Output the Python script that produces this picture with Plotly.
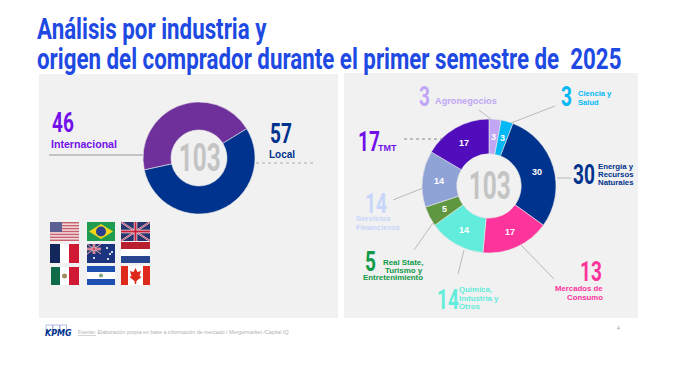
import math
import plotly.graph_objects as go

W, H = 688, 366
PAGE = 8  # the page body's default margin
FW, FH = W - 2 * PAGE, H - 2 * PAGE
DISPLAY = "Roboto"
SANS = "Liberation Sans"

origin_labels = ["Internacional", "Local"]
origin_values = [46, 57]
origin_colors = ["#70309b", "#00338d"]

industry_labels = ["Agronegocios", "Ciencia y Salud", "Energía y Recursos Naturales",
                   "Mercados de Consumo", "Química, Industria y Otros",
                   "Real State, Turismo y Entretenimiento", "Servicios Financieros", "TMT"]
industry_values = [3, 3, 30, 17, 14, 5, 14, 17]
industry_colors = ["#c0a6f5", "#00b8f5", "#00338d", "#fd349c", "#62ecdc",
                   "#5f9640", "#8fa3d6", "#510dbc"]
total = sum(origin_values)


def px(x):
    return (x - PAGE) / FW


def py(y):
    return 1 - (y - PAGE) / FH


shapes = []
ann = []


def rect(x0, y0, x1, y1, color, layer="below"):
    shapes.append(dict(type="rect", xref="paper", yref="paper", x0=px(x0), x1=px(x1),
                       y0=py(y0), y1=py(y1), fillcolor=color, line_width=0, layer=layer))


def line(x0, y0, x1, y1, color="#a0a0a0", width=0.7, dash="solid", layer="above"):
    shapes.append(dict(type="line", xref="paper", yref="paper", x0=px(x0), x1=px(x1),
                       y0=py(y0), y1=py(y1), line=dict(color=color, width=width, dash=dash), layer=layer))


def poly(points, color, layer="above"):
    w = "M " + " L ".join(f"{px(a):.5f},{py(b):.5f}" for a, b in points) + " Z"
    shapes.append(dict(type="path", xref="paper", yref="paper", path=w, fillcolor=color,
                       line_width=0, layer=layer))


def dot(x, y, r, color):
    shapes.append(dict(type="circle", xref="paper", yref="paper", x0=px(x - r), x1=px(x + r),
                       y0=py(y - r), y1=py(y + r), fillcolor=color, line_width=0, layer="above"))


def text(x, y, s, size, color, anchor="left", family=SANS, bold=True, gap=8.3):
    parts = s.split("\n")
    top = y - gap * (len(parts) - 1) / 2
    for i, p in enumerate(parts):
        t = f"<b>{p}</b>" if bold else p
        ann.append(dict(xref="paper", yref="paper", x=px(x), y=py(top + i * gap), text=t, showarrow=False,
                        xanchor=anchor, yanchor="middle", align=anchor, borderpad=0, borderwidth=0,
                        font=dict(family=family, size=size, color=color)))


# panels
rect(39, 74, 338, 318, "#f1f1f1")
rect(344, 73, 638, 318, "#f1f1f1")

# title
text(37, 28, "Análisis por industria y", 30, "#1e49e2", family=DISPLAY)
text(37, 59, "origen del comprador durante el primer semestre de  2025", 30, "#1e49e2", family=DISPLAY)

# donut centre labels
text(199, 158, str(total), 38, "#c4c4c4", "center", DISPLAY)
text(489, 186, str(total), 38, "#c4c4c4", "center", DISPLAY)

# left labels
text(52, 123, "46", 28, "#7210ea", family=DISPLAY)
text(51, 144, "Internacional", 10.6, "#7210ea")
text(270, 133, "57", 28, "#00338d", family=DISPLAY)
text(269, 154, "Local", 10, "#00338d")
line(49, 155, 143, 155, "#808080", 0.8)
line(256, 163, 315, 163, "#a0a0a0", 0.8, dash="dot")

# right labels
text(419, 97, "3", 28, "#c0a6f5", family=DISPLAY)
text(435, 101, "Agronegocios", 9.2, "#c0a6f5")
line(479, 110, 492, 120)
text(561, 97, "3", 28, "#00b8f5", family=DISPLAY)
text(578, 98, "Ciencia y\nSalud", 7.6, "#00b8f5")
line(555, 106, 511, 123)
text(358, 141, "17", 28, "#7210ea", family=DISPLAY)
text(378, 148, "TMT", 9, "#7210ea")
line(404, 139, 443, 139, "#707070", 0.8, dash="dot")
text(573, 175, "30", 28, "#00338d", family=DISPLAY)
text(598, 174.5, "Energía y\nRecursos\nNaturales", 7.8, "#00338d")
line(557, 178, 571, 178)
text(365, 203, "14", 28, "#c6d6fa", family=DISPLAY)
text(356, 223, "Servicios\nFinancieros", 7.8, "#c6d6fa")
line(393, 200, 423, 188)
text(365, 261, "5", 28, "#0f9a48", family=DISPLAY)
text(423, 270, "Real State,\nTurismo y\nEntretenimiento", 7.9, "#0f9a48", "right", gap=7.7)
line(414, 250, 433, 223)
text(437, 299, "14", 28, "#62ecdc", family=DISPLAY)
text(459, 298, "Química,\nIndustria y\nOtros", 7.8, "#62ecdc")
line(458, 274, 464, 250)
text(580, 271, "13", 28, "#fd349c", family=DISPLAY)
text(603, 293, "Mercados de\nConsumo", 7.8, "#fd349c", "right")
line(554, 279, 521, 245)

# values inside the industry ring, placed at each slice's mid-angle
RING_X, RING_Y, RING_R = 489, 186.5, 50
running = 0
for v in industry_values:
    theta = 2 * math.pi * (running + v / 2) / total
    text(RING_X + RING_R * math.sin(theta), RING_Y - RING_R * math.cos(theta), str(v), 9, "white", "center")
    running += v

# flags
cols = [(50, 79), (87, 115), (121, 150)]
rows = [(222, 241), (244, 263), (266, 285)]

# USA
(x0, x1), (y0, y1) = cols[0], rows[0]
rect(x0, y0, x1, y1, "#f3e3e4", "above")
for i in range(0, 13, 2):
    rect(x0, y0 + i * (y1 - y0) / 13, x1, y0 + (i + 1) * (y1 - y0) / 13, "#c9606e", "above")
rect(x0, y0, x0 + 12, y0 + 10, "#5c5f93", "above")
# Brazil
(x0, x1), (y0, y1) = cols[1], rows[0]
rect(x0, y0, x1, y1, "#1f9c50", "above")
poly([(x0 + 2, (y0 + y1) / 2), ((x0 + x1) / 2, y0 + 2), (x1 - 2, (y0 + y1) / 2), ((x0 + x1) / 2, y1 - 2)], "#f3d41a")
dot((x0 + x1) / 2, (y0 + y1) / 2, 5, "#2b3f8f")


def union(x0, y0, x1, y1, wd, wn):
    rect(x0, y0, x1, y1, "#27346e", "above")
    line(x0, y0, x1, y1, "#e8e0e6", wd)
    line(x0, y1, x1, y0, "#e8e0e6", wd)
    line(x0, y0, x1, y1, "#c8405a", wn)
    line(x0, y1, x1, y0, "#c8405a", wn)
    xm, ym = (x0 + x1) / 2, (y0 + y1) / 2
    line(xm, y0, xm, y1, "#eee8ea", wd + 1.5)
    line(x0, ym, x1, ym, "#eee8ea", wd + 1.5)
    line(xm, y0, xm, y1, "#c8203c", wd)
    line(x0, ym, x1, ym, "#c8203c", wd)


# UK
(x0, x1), (y0, y1) = cols[2], rows[0]
union(x0, y0, x1, y1, 2, 1)
# France
(x0, x1), (y0, y1) = cols[0], rows[1]
rect(x0, y0, x0 + 10, y1, "#14275c", "above")
rect(x0 + 10, y0, x0 + 19, y1, "#ffffff", "above")
rect(x0 + 19, y0, x1, y1, "#d01a34", "above")
# Australia
(x0, x1), (y0, y1) = cols[1], rows[1]
rect(x0, y0, x1, y1, "#1c3480", "above")
union(x0, y0, x0 + 14, y0 + 10, 1, 0.5)
for a, b in [(7, 14), (20, 4), (25, 8), (21, 15), (23, 10)]:
    dot(x0 + a, y0 + b, 1.1, "#ffffff")
# Netherlands
(x0, x1), (y0, y1) = cols[2], rows[1]
rect(x0, y0 - 2, x1, y0 + 5, "#b9202f", "above")
rect(x0, y0 + 5, x1, y0 + 12, "#ffffff", "above")
rect(x0, y0 + 12, x1, y1, "#27468f", "above")
# Mexico
(x0, x1), (y0, y1) = cols[0], rows[2]
x0 += 1
rect(x0, y0 + 1, x0 + 9, y1, "#0f6b48", "above")
rect(x0 + 9, y0 + 1, x0 + 18, y1, "#ffffff", "above")
rect(x0 + 18, y0 + 1, x1, y1, "#d01a34", "above")
dot(x0 + 13.5, y0 + 10, 2.5, "#a08a60")
# El Salvador
(x0, x1), (y0, y1) = cols[1], rows[2]
rect(x0, y0, x1, y0 + 6, "#1c4fb0", "above")
rect(x0, y0 + 6, x1, y0 + 13, "#ffffff", "above")
rect(x0, y0 + 13, x1, y1, "#1c4fb0", "above")
dot((x0 + x1) / 2, y0 + 9.5, 2, "#7aa57a")
# Canada
(x0, x1), (y0, y1) = cols[2], rows[2]
rect(x0, y0, x0 + 7, y1, "#dd2a1c", "above")
rect(x0 + 7, y0, x1 - 7, y1, "#ffffff", "above")
rect(x1 - 7, y0, x1, y1, "#dd2a1c", "above")
xc, yc = (x0 + x1) / 2, y0 + 9
poly([(xc, yc - 7), (xc + 2, yc - 3), (xc + 5.5, yc - 4), (xc + 4, yc + 1), (xc + 6, yc + 2),
      (xc + 1, yc + 6), (xc + 0.6, yc + 9), (xc - 0.6, yc + 9), (xc - 1, yc + 6), (xc - 6, yc + 2),
      (xc - 4, yc + 1), (xc - 5.5, yc - 4), (xc - 2, yc - 3)], "#dd2a1c")

# footer
for a in (46, 53, 60):
    shapes.append(dict(type="rect", xref="paper", yref="paper", x0=px(a), x1=px(a + 6.5), y0=py(331),
                       y1=py(325), line=dict(color="#8fa3d6", width=0.7), layer="above"))
text(45, 333, "KPMG", 8, "#00338d", family="DejaVu Sans")
ann[-1]["text"] = "<b><i>KPMG</i></b>"
text(78, 332, "<u>Fuente:</u> Elaboración propia en base a información de mercado / Mergermarket /Capital IQ",
     5.3, "#b0b0b0", bold=False)
text(617, 328, "4", 5, "#999999", bold=False)

fig = go.Figure()
fig.add_trace(go.Pie(labels=origin_labels, values=origin_values, sort=False, direction="clockwise",
                     rotation=257.7, hole=0.5, textinfo="none", hoverinfo="label+value",
                     marker=dict(colors=origin_colors, line=dict(color="#e8e8e8", width=0.6)),
                     domain=dict(x=[px(143), px(255)], y=[py(214), py(102)]), showlegend=False))
fig.add_trace(go.Pie(labels=industry_labels, values=industry_values, sort=False, direction="clockwise",
                     rotation=0, hole=0.48, textinfo="none", hoverinfo="label+value",
                     marker=dict(colors=industry_colors, line=dict(color="#e8e8e8", width=0.6)),
                     domain=dict(x=[px(422), px(556)], y=[py(253), py(119)]), showlegend=False))
fig.update_layout(width=FW, height=FH, margin=dict(l=0, r=0, t=0, b=0), paper_bgcolor="white",
                  plot_bgcolor="white", shapes=shapes, annotations=ann, showlegend=False)

# The reference's display face is condensed and no condensed font is installed:
# squeeze the Roboto texts horizontally about their anchor, keeping them real text.
squeeze = """
var squeezeBySize = {30: 0.744, 28: 0.68, 38: 0.64};
document.querySelectorAll('.annotation-text').forEach(function (el) {
  var size = Math.round(parseFloat(el.style.fontSize));
  var k = squeezeBySize[size];
  if (!k) return;
  var b = el.getBBox();
  var ax = size === 38 ? b.x + b.width / 2 : b.x;
  el.setAttribute('transform', 'translate(' + ax + ',0) scale(' + k + ',1) translate(' + (-ax) + ',0)');
});
"""
fig.write_html("out.html", config=dict(displayModeBar=False), post_script=squeeze)
